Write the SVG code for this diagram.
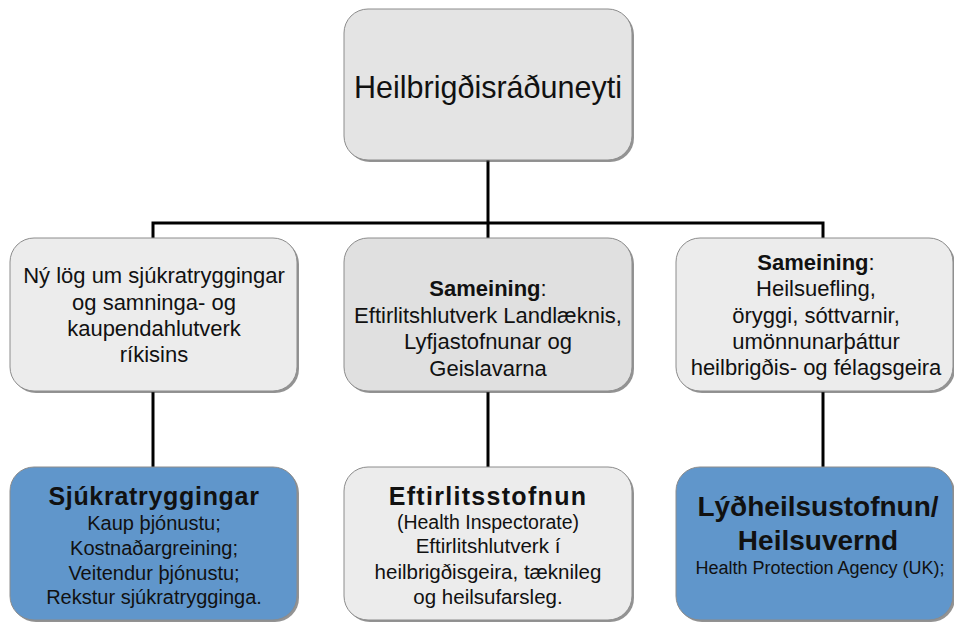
<svg xmlns="http://www.w3.org/2000/svg" width="954" height="622" viewBox="0 0 954 622">
<style>
.box{stroke:#8c8c8c;stroke-width:1}
.sh{fill:#3a3a3a;opacity:0.55}
.g1{fill:#e4e4e4}
.g2{fill:#ececec}
.g3{fill:#e0e0e0}
.blue{fill:#6096cb}
text{font-family:"Liberation Sans",Arial,sans-serif;fill:#111;text-anchor:middle}
.t22{font-size:22px}
.t20{font-size:20px}
.b{font-weight:bold}
.con{stroke:#000;stroke-width:3;fill:none}
</style>
<rect width="954" height="622" fill="#fff"/>
<g id="connectors">
<line class="con" x1="488" y1="160" x2="488" y2="239"/>
<polyline class="con" points="153,239 153,223 823,223 823,239"/>
<line class="con" x1="153" y1="392" x2="153" y2="468"/>
<line class="con" x1="488" y1="392" x2="488" y2="468"/>
<line class="con" x1="823" y1="392" x2="823" y2="468"/>
</g>
<g id="n-top">
<rect class="sh" x="346" y="11" width="288" height="151" rx="24"/>
<rect class="box g1" x="344" y="9" width="288" height="151" rx="24"/>
<text x="488" y="98" style="font-size:30.5px">Heilbrigðisráðuneyti</text>
</g>
<g id="n-left">
<rect class="sh" x="12" y="240" width="287" height="153" rx="24"/>
<rect class="box g2" x="10" y="238" width="287" height="153" rx="24"/>
<text class="t22" x="154" y="283">Ný lög um sjúkratryggingar</text>
<text class="t22" x="154" y="310">og samninga- og</text>
<text class="t22" x="154" y="336">kaupendahlutverk</text>
<text class="t22" x="154" y="362">ríkisins</text>
</g>
<g id="n-mid">
<rect class="sh" x="346" y="240" width="288" height="153" rx="24"/>
<rect class="box g3" x="344" y="238" width="288" height="153" rx="24"/>
<text class="t22" x="488" y="296"><tspan class="b">Sameining</tspan>:</text>
<text class="t22" x="488" y="323">Eftirlitshlutverk Landlæknis,</text>
<text class="t22" x="488" y="349">Lyfjastofnunar og</text>
<text class="t22" x="488" y="376">Geislavarna</text>
</g>
<g id="n-right">
<rect class="sh" x="678" y="240" width="277" height="153" rx="24"/>
<rect class="box g2" x="676" y="238" width="277" height="153" rx="24"/>
<text class="t22" x="816" y="270"><tspan class="b">Sameining</tspan>:</text>
<text class="t22" x="816" y="296">Heilsuefling,</text>
<text class="t22" x="816" y="323">öryggi, sóttvarnir,</text>
<text class="t22" x="816" y="349">umönnunarþáttur</text>
<text class="t22" x="816" y="375">heilbrigðis- og félagsgeira</text>
</g>
<g id="n-sjukra">
<rect class="sh" x="12" y="469" width="287" height="153" rx="24"/>
<rect class="box blue" x="10" y="467" width="287" height="153" rx="24"/>
<text class="b" x="154" y="505" style="font-size:25px;letter-spacing:0.7px">Sjúkratryggingar</text>
<text class="t20" x="154" y="530">Kaup þjónustu;</text>
<text class="t20" x="154" y="555">Kostnaðargreining;</text>
<text class="t20" x="154" y="580">Veitendur þjónustu;</text>
<text class="t20" x="154" y="604">Rekstur sjúkratrygginga.</text>
</g>
<g id="n-eftirlit">
<rect class="sh" x="346" y="469" width="288" height="153" rx="24"/>
<rect class="box g2" x="344" y="467" width="288" height="153" rx="24"/>
<text class="b" x="488" y="505" style="font-size:25px;letter-spacing:1.3px">Eftirlitsstofnun</text>
<text x="488" y="529" style="font-size:19.5px">(Health Inspectorate)</text>
<text x="488" y="553" style="font-size:20.5px">Eftirlitshlutverk í</text>
<text x="488" y="579" style="font-size:20.5px">heilbrigðisgeira, tæknileg</text>
<text x="488" y="604" style="font-size:20.5px">og heilsufarsleg.</text>
</g>
<g id="n-lydheilsu">
<rect class="sh" x="678" y="469" width="277" height="153" rx="24"/>
<rect class="box blue" x="676" y="467" width="277" height="153" rx="24"/>
<text class="b" x="818" y="516" style="font-size:28px">Lýðheilsustofnun/</text>
<text class="b" x="818" y="550" style="font-size:28px">Heilsuvernd</text>
<text x="820" y="574" style="font-size:18px">Health Protection Agency (UK);</text>
</g>
</svg>
